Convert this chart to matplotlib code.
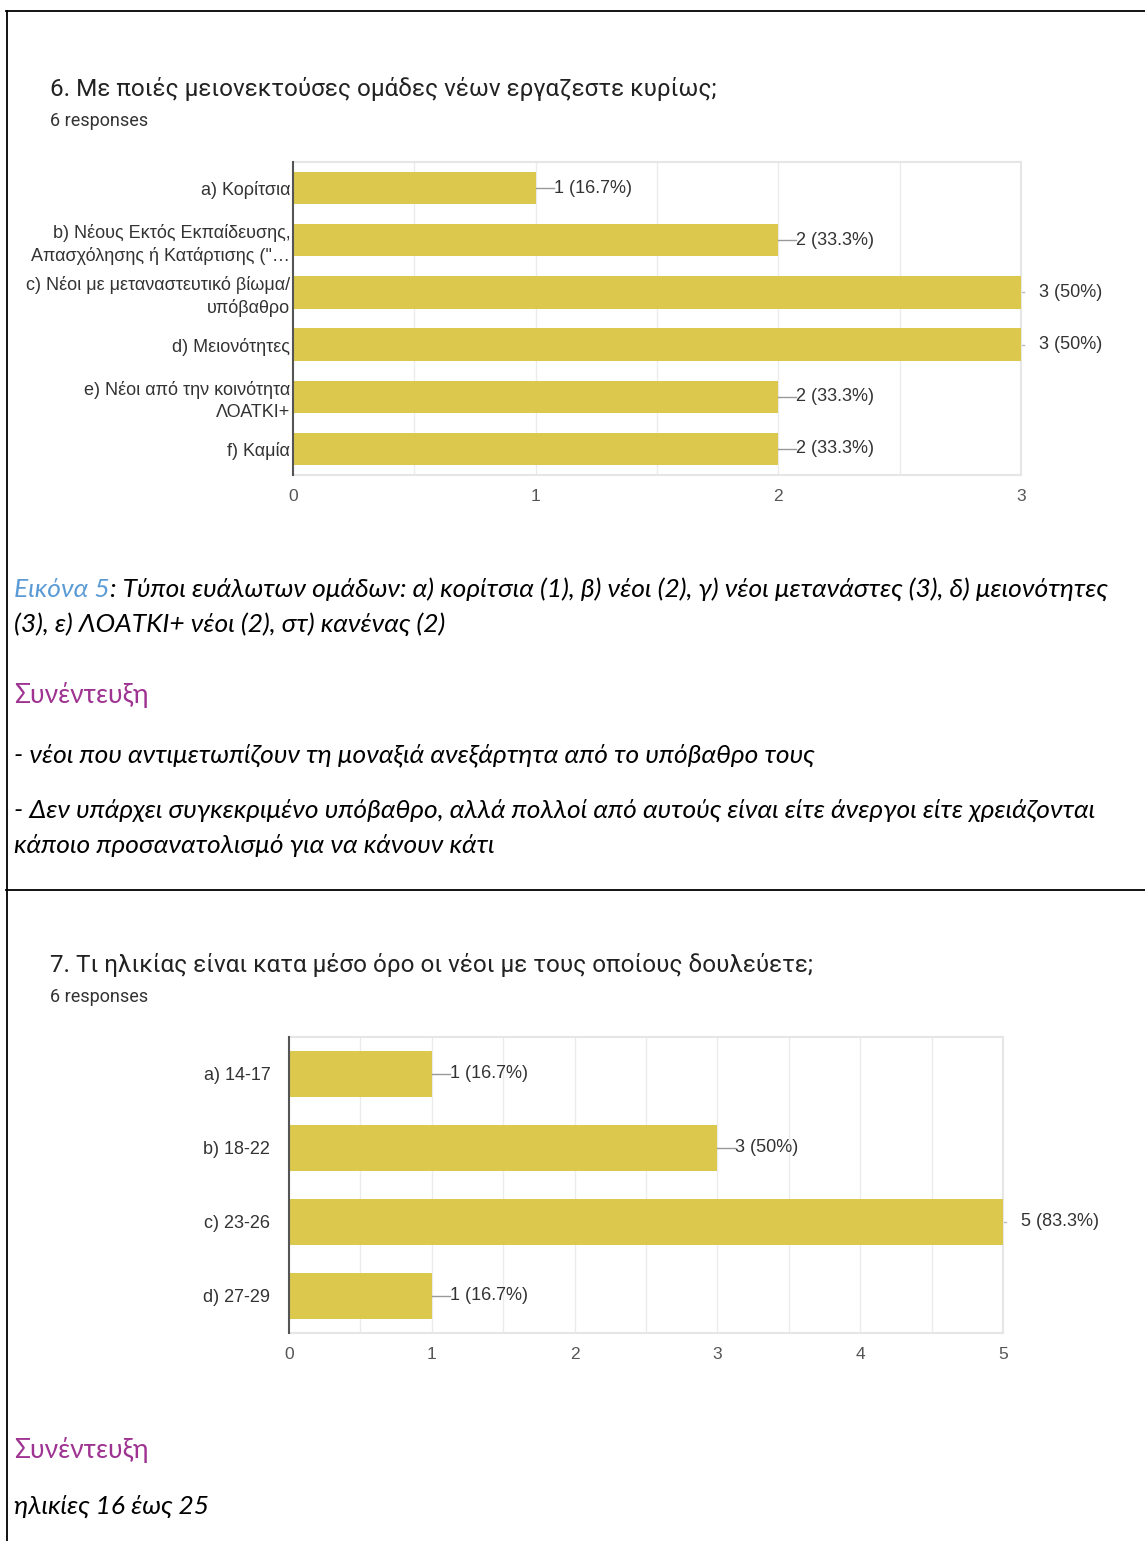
import matplotlib
matplotlib.use("Agg")
import matplotlib.pyplot as plt
from matplotlib.lines import Line2D

W, H = 1145, 1541

# chart 1: disadvantaged groups
groups_labels = [
    "a) Κορίτσια",
    "b) Νέους Εκτός Εκπαίδευσης,\nΑπασχόλησης ή Κατάρτισης (\"…",
    "c) Νέοι με μεταναστευτικό βίωμα/\nυπόβαθρο",
    "d) Μειονότητες",
    "e) Νέοι από την κοινότητα\nΛΟΑΤΚΙ+",
    "f) Καμία",
]
groups_values = [1, 2, 3, 3, 2, 2]
groups_ticks = [0, 1, 2, 3]

# chart 2: age ranges
ages_labels = ["a) 14-17", "b) 18-22", "c) 23-26", "d) 27-29"]
ages_values = [1, 3, 5, 1]
ages_ticks = [0, 1, 2, 3, 4, 5]

n_responses = 6

BAR = "#DCC84C"
CHART_FONT = ["Liberation Sans", "DejaVu Sans"]
TITLE_FONT = ["Roboto", "DejaVu Sans"]
BODY_FONT = ["Lato", "Open Sans", "DejaVu Sans"]
PURPLE = "#9E3391"
BLUE = "#5B9BD5"
BODY_SIZE = 19

fig = plt.figure(figsize=(W / 100, H / 100), dpi=100)


def fx(x):
    return x / W


def fy(y):
    return 1 - y / H


def ftext(x, y, s, **kw):
    return fig.text(fx(x), fy(y), s, **kw)


def bar_chart(box, labels, values, ticks, label_pad):
    l, t, r, b = box
    ax = fig.add_axes([fx(l), fy(b), fx(r) - fx(l), fy(t) - fy(b)])
    n = len(values)
    ypos = list(range(n))
    ax.barh(ypos, values, height=0.62, color=BAR, zorder=3)
    xmax = ticks[-1]
    ax.set_xlim(0, xmax)
    ax.set_ylim(n - 0.5, -0.5)
    ax.set_xticks(ticks)
    ax.set_xticklabels([str(t) for t in ticks], fontsize=12.5, color="#555555",
                       family=CHART_FONT)
    ax.set_yticks(ypos)
    ax.set_yticklabels(labels, fontsize=13, color="#333333", family=CHART_FONT,
                       linespacing=1.35)
    ax.tick_params(axis="both", length=0)
    ax.tick_params(axis="y", pad=label_pad)
    ax.tick_params(axis="x", pad=10)
    halves = [i * 0.5 for i in range(1, int(xmax * 2) + 1)]
    for g in halves:
        ax.axvline(g, color="#EBEBEB", lw=1, zorder=1)
    for s in ["top", "right", "bottom"]:
        ax.spines[s].set_color("#E6E6E6")
        ax.spines[s].set_linewidth(1.5)
    ax.spines["left"].set_color("#555555")
    ax.spines["left"].set_linewidth(1.5)
    ax.spines["left"].set_zorder(4)

    # value labels with leader lines, like google forms
    to_px = (r - l) / xmax
    for i, v in enumerate(values):
        pct = round(v / n_responses * 100, 1)
        txt = f"{v} ({pct:g}%)"
        gap = 18 / to_px
        if v < xmax:
            ax.plot([v, v + gap], [i, i], color="#999999", lw=1, zorder=2,
                    clip_on=False)
        else:
            ax.plot([v, v + 3 / to_px], [i, i], color="#BBBBBB", lw=1, zorder=2,
                    clip_on=False)
        ax.text(v + gap, i, txt, va="center", ha="left", fontsize=13,
                color="#333333", family=CHART_FONT, clip_on=False)
    return ax


# page borders
fig.add_artist(Line2D([fx(6), 1], [fy(11), fy(11)], color="black", lw=1.3))
fig.add_artist(Line2D([fx(6.5), fx(6.5)], [fy(11), 0], color="black", lw=1.3))
fig.add_artist(Line2D([fx(6), 1], [fy(890), fy(890)], color="black", lw=1.3))

# first question
ftext(50, 96, "6. Με ποιές μειονεκτούσες ομάδες νέων εργαζεστε κυρίως;",
      fontsize=17.5, color="#222222", family=TITLE_FONT)
ftext(50, 126, f"{n_responses} responses", fontsize=13, color="#333333",
      family=TITLE_FONT)
bar_chart((293, 162, 1021, 475), groups_labels, groups_values, groups_ticks, 2)

# caption with coloured figure number
cap = ftext(14, 597, "Εικόνα 5", fontsize=BODY_SIZE, style="italic", color=BLUE,
            family=BODY_FONT)
fig.canvas.draw()
bb = cap.get_window_extent()
ftext(14 + bb.width, 597,
      ": Τύποι ευάλωτων ομάδων: α) κορίτσια (1), β) νέοι (2), γ) νέοι μετανάστες (3), δ) μειονότητες",
      fontsize=BODY_SIZE, style="italic", color="black", family=BODY_FONT)
ftext(14, 632, "(3), ε) ΛΟΑΤΚΙ+ νέοι (2), στ) κανένας (2)", fontsize=BODY_SIZE,
      style="italic", color="black", family=BODY_FONT)

ftext(14, 703, "Συνέντευξη", fontsize=19, color=PURPLE, family=BODY_FONT)
ftext(14, 762, "- νέοι που αντιμετωπίζουν τη μοναξιά ανεξάρτητα από το υπόβαθρο τους",
      fontsize=BODY_SIZE, style="italic", color="black", family=BODY_FONT)
ftext(14, 818,
      "- Δεν υπάρχει συγκεκριμένο υπόβαθρο, αλλά πολλοί από αυτούς είναι είτε άνεργοι είτε χρειάζονται",
      fontsize=BODY_SIZE, style="italic", color="black", family=BODY_FONT)
ftext(14, 853, "κάποιο προσανατολισμό για να κάνουν κάτι", fontsize=BODY_SIZE,
      style="italic", color="black", family=BODY_FONT)

# second question
ftext(50, 972, "7. Τι ηλικίας είναι κατα μέσο όρο οι νέοι με τους οποίους δουλεύετε;",
      fontsize=17.5, color="#222222", family=TITLE_FONT)
ftext(50, 1002, f"{n_responses} responses", fontsize=13, color="#333333",
      family=TITLE_FONT)
bar_chart((289, 1037, 1003, 1333), ages_labels, ages_values, ages_ticks, 13.5)

ftext(14, 1458, "Συνέντευξη", fontsize=19, color=PURPLE, family=BODY_FONT)
ftext(14, 1514, "ηλικίες 16 έως 25", fontsize=BODY_SIZE, style="italic",
      color="black", family=BODY_FONT)

fig.savefig("out.png", dpi=100, facecolor="white")
